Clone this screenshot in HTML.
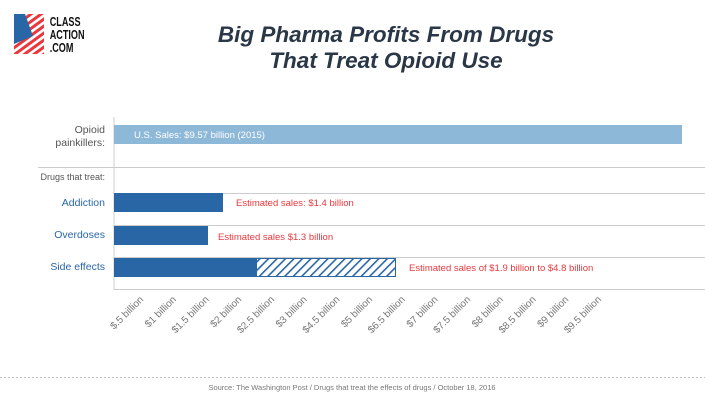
<!DOCTYPE html>
<html><head><style>
body{margin:0;background:#fff}
svg{display:block;font-family:"Liberation Sans",sans-serif}
</style></head><body>
<svg width="705" height="405" viewBox="0 0 705 405">
<defs>
<pattern id="h" width="6" height="6" patternUnits="userSpaceOnUse" patternTransform="rotate(45)">
<rect width="6" height="6" fill="#fff"/><rect width="1.6" height="6" fill="#2866a6"/>
</pattern>
<clipPath id="lc"><rect x="14" y="14" width="30" height="40"/></clipPath>
</defs>
<!-- logo -->
<g clip-path="url(#lc)">
<rect x="14" y="14" width="30" height="40" fill="#fff"/>
<g stroke="#e8383d" stroke-width="3">
<line x1="0" y1="30" x2="40" y2="0"/><line x1="0" y1="37" x2="50" y2="0"/><line x1="0" y1="44" x2="55" y2="4"/><line x1="0" y1="51" x2="55" y2="11"/><line x1="0" y1="58" x2="55" y2="18"/><line x1="0" y1="65" x2="55" y2="25"/><line x1="0" y1="72" x2="55" y2="32"/><line x1="0" y1="79" x2="55" y2="39"/><line x1="0" y1="86" x2="55" y2="46"/>
</g>
<polygon points="14,14 25,14 33,36 14,44" fill="#2866a6"/>
</g>
<g font-weight="bold" font-size="13" fill="#111" transform="scale(0.7,1)">
<text x="71" y="26">CLASS</text><text x="71" y="39">ACTION</text><text x="71" y="52">.COM</text>
</g>
<!-- title -->
<g font-size="22.5" font-style="italic" font-weight="bold" fill="#2a3746" text-anchor="middle">
<text x="386" y="42">Big Pharma Profits From Drugs</text>
<text x="386" y="68">That Treat Opioid Use</text>
</g>
<!-- grid -->
<line x1="114" y1="117" x2="114" y2="290" stroke="#ccc"/>
<line x1="38" y1="167.5" x2="705" y2="167.5" stroke="#ccc"/>
<line x1="114" y1="193.5" x2="705" y2="193.5" stroke="#ccc"/>
<line x1="114" y1="225.5" x2="705" y2="225.5" stroke="#ccc"/>
<line x1="114" y1="257.5" x2="705" y2="257.5" stroke="#ccc"/>
<line x1="114" y1="289.5" x2="705" y2="289.5" stroke="#ccc"/>
<!-- bars -->
<rect x="114" y="125" width="568" height="19" fill="#8db8d8"/>
<text x="134" y="138" font-size="9.5" fill="#fff">U.S. Sales: $9.57 billion (2015)</text>
<rect x="114" y="193" width="109" height="19" fill="#2866a6"/>
<rect x="114" y="226" width="94" height="19" fill="#2866a6"/>
<rect x="114" y="258" width="142" height="19" fill="#2866a6"/>
<rect x="256.5" y="258.5" width="139" height="18" fill="url(#h)" stroke="#2866a6"/>
<g font-size="9.5" fill="#e8383d">
<text x="236" y="206">Estimated sales: $1.4 billion</text>
<text x="218" y="240">Estimated sales $1.3 billion</text>
<text x="409" y="271">Estimated sales of $1.9 billion to $4.8 billion</text>
</g>
<!-- labels -->
<g text-anchor="end" font-size="10.5">
<text x="105" y="133" fill="#555">Opioid</text>
<text x="105" y="146" fill="#555">painkillers:</text>
<text x="105" y="180" font-size="9" fill="#555">Drugs that treat:</text>
<text x="105" y="206" fill="#2866a6">Addiction</text>
<text x="105" y="238" fill="#2866a6">Overdoses</text>
<text x="105" y="270" fill="#2866a6">Side effects</text>
</g>
<!-- ticks -->
<g font-size="10" fill="#777" text-anchor="end">
<text transform="translate(144,300) rotate(-45)">$.5 billion</text>
<text transform="translate(176.7,300) rotate(-45)">$1 billion</text>
<text transform="translate(209.4,300) rotate(-45)">$1.5 billion</text>
<text transform="translate(242.1,300) rotate(-45)">$2 billion</text>
<text transform="translate(274.8,300) rotate(-45)">$2.5 billion</text>
<text transform="translate(307.5,300) rotate(-45)">$3 billion</text>
<text transform="translate(340.2,300) rotate(-45)">$4.5 billion</text>
<text transform="translate(372.9,300) rotate(-45)">$5 billion</text>
<text transform="translate(405.6,300) rotate(-45)">$6.5 billion</text>
<text transform="translate(438.3,300) rotate(-45)">$7 billion</text>
<text transform="translate(471,300) rotate(-45)">$7.5 billion</text>
<text transform="translate(503.7,300) rotate(-45)">$8 billion</text>
<text transform="translate(536.4,300) rotate(-45)">$8.5 billion</text>
<text transform="translate(569.1,300) rotate(-45)">$9 billion</text>
<text transform="translate(601.8,300) rotate(-45)">$9.5 billion</text>
</g>
<line x1="0" y1="377.5" x2="705" y2="377.5" stroke="#bbb" stroke-dasharray="2,2"/>
<text x="352" y="390" font-size="7.5" fill="#777" text-anchor="middle">Source: The Washington Post / Drugs that treat the effects of drugs / October 18, 2016</text>
</svg>
</body></html>
